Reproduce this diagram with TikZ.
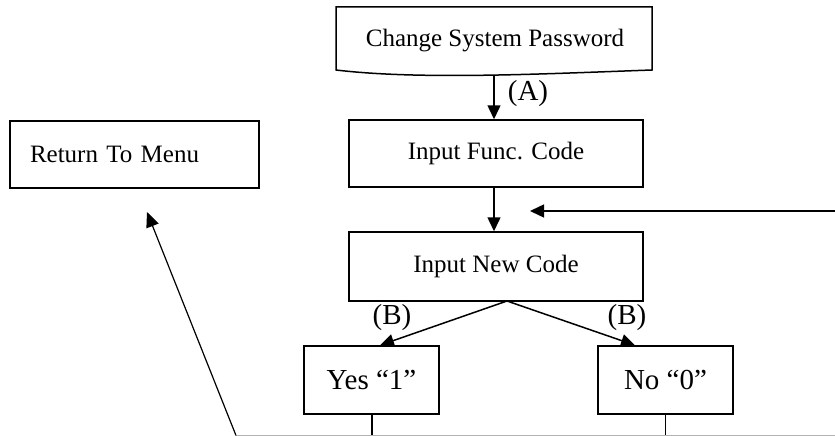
\documentclass[tikz,border=0pt]{standalone}
\usepackage{fontspec}
\setmainfont{Liberation Serif}
\usetikzlibrary{arrows.meta}
\begin{document}
\begin{tikzpicture}[x=1pt,y=-1pt,
  box/.style={draw, line width=1.5pt, inner sep=0pt, font=\fontsize{25}{30}\selectfont},
  bigbox/.style={box, font=\fontsize{29}{34}\selectfont},
  lbl/.style={inner sep=0pt, font=\fontsize{29}{34}\selectfont},
  arr/.style={line width=1.5pt, -{Triangle[length=14pt,width=13pt]}},
  thin/.style={line width=1.2pt},
]
\useasboundingbox (0,0) rectangle (835,436);
% document shape
\draw[line width=1.5pt] (336,7) -- (652,7) -- (652,70) .. controls (540,74) and (420,80) .. (336,70) -- cycle;
\node[inner sep=0pt, font=\fontsize{25}{30}\selectfont] (csp) at (495,41) {Change System Password};
\coordinate (docb) at (494,74.5);

\node[box, minimum width=249pt, minimum height=67pt, text width=209pt, inner xsep=20pt, align=left] (rtm) at (134.5,154.5) {Return To Menu};
\node[box, minimum width=294pt, minimum height=67pt] (ifc) at (496,153.5) {Input Func. Code};
\node[box, minimum width=294pt, minimum height=69pt] (inc) at (496,266.5) {Input New Code};
\node[bigbox, minimum width=135pt, minimum height=68pt] (yes) at (371.5,380) {Yes “1”};
\node[bigbox, minimum width=135pt, minimum height=68pt] (no) at (665.5,380) {No “0”};

\node[lbl] (la) at (528,94) {(A)};
\node[lbl] (lb1) at (392,318) {(B)};
\node[lbl] (lb2) at (627,318) {(B)};

\draw[arr] (docb) -- (ifc.north -| docb);
\draw[arr] ([xshift=-2pt]ifc.south) -- ([xshift=-2pt]inc.north);

\coordinate (fbs) at (835,211);
\coordinate (fbe) at (530,211);
\draw[arr] (fbs) -- (fbe);

\coordinate (br) at (507,301);
\draw[arr] (br) -- ([xshift=8.5pt]yes.north);
\draw[arr] (br) -- ([xshift=-30.5pt]no.north);

\coordinate (ybot) at (372,436);
\coordinate (nbot) at (665.5,436);
\draw[thin] ([xshift=0.5pt]yes.south) -- (ybot);
\draw[thin] (no.south) -- (nbot);
\coordinate (bl) at (236,435.5);
\coordinate (br2) at (835,435.5);
\draw[line width=1pt, gray!60] (bl) -- (br2);
\coordinate (rtarget) at (147,212);
\draw[thin, -{Triangle[length=15pt,width=13pt]}] (bl) -- (rtarget);
\end{tikzpicture}
\end{document}
